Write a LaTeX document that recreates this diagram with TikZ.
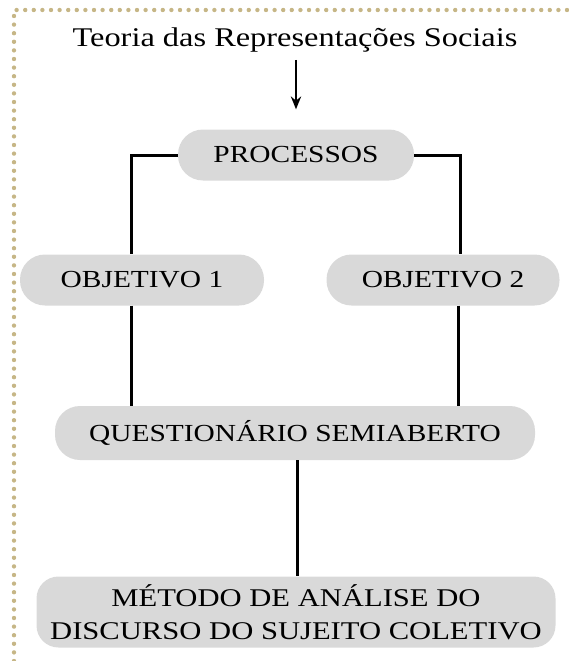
\documentclass[tikz,border=0pt]{standalone}
\usepackage{fontspec}
\setmainfont[FakeStretch=1.2]{Liberation Serif}
\usepackage{xcolor}
\usepackage{tikz}
\usetikzlibrary{positioning,arrows.meta,calc}
\definecolor{pillgray}{RGB}{217,217,217}
\definecolor{bordertan}{RGB}{198,182,134}
\tikzset{
  pillbox/.style={fill=pillgray,rounded corners=25pt,align=center,inner sep=0pt,font=\fontsize{24.5}{29}\selectfont},
  methodbox/.style={fill=pillgray,rounded corners=22pt,align=center,inner sep=0pt,font=\fontsize{25.5}{33}\selectfont},
  link/.style={line width=3pt,draw=black},
  flow/.style={-{Stealth[length=4.5mm,width=3.6mm]},line width=2.8pt,draw=black},
  frame/.style={draw=bordertan,line width=4.4pt,line cap=round,dash pattern=on 0pt off 8.6pt},
}

\begin{document}
\begin{tikzpicture}[x=1pt,y=1pt]
  \useasboundingbox (0,0) rectangle (569,-661);
  \draw[frame] (14,-661) -- (14,-10) -- (569,-10);
  \node[font=\fontsize{27}{32}\selectfont] (title) at (295,-40) {Teoria das Representações Sociais};
  \node[pillbox,minimum width=236pt,minimum height=51pt] (procs) at (296,-155) {PROCESSOS};
  \node[pillbox,minimum width=244pt,minimum height=51pt] (obj1) at (142,-280) {OBJETIVO 1};
  \node[pillbox,minimum width=233pt,minimum height=51pt] (obj2) at (443,-280) {OBJETIVO 2};
  \node[pillbox,minimum width=480pt,minimum height=54pt] (quest) at (295,-433) {QUESTIONÁRIO SEMIABERTO};
  \node[methodbox,minimum width=519pt,minimum height=71pt] (metodo) at (296,-612) {MÉTODO DE ANÁLISE DO\\DISCURSO DO SUJEITO COLETIVO};
  \draw[flow,shorten <=4pt,shorten >=20pt] (title.south -| procs.north) -- (procs.north);
  \draw[link] (procs.west) -| ([xshift=-11pt]obj1.north);
  \draw[link] (procs.east) -| ([xshift=17pt]obj2.north);
  \draw[link] ([xshift=-11pt]obj1.south) -- ([xshift=-11pt]obj1.south |- quest.north);
  \draw[link] ([xshift=15pt]obj2.south) -- ([xshift=15pt]obj2.south |- quest.north);
  \draw[link] ([xshift=2pt]quest.south) -- ([xshift=2pt]quest.south |- metodo.north);
\end{tikzpicture}
\end{document}
